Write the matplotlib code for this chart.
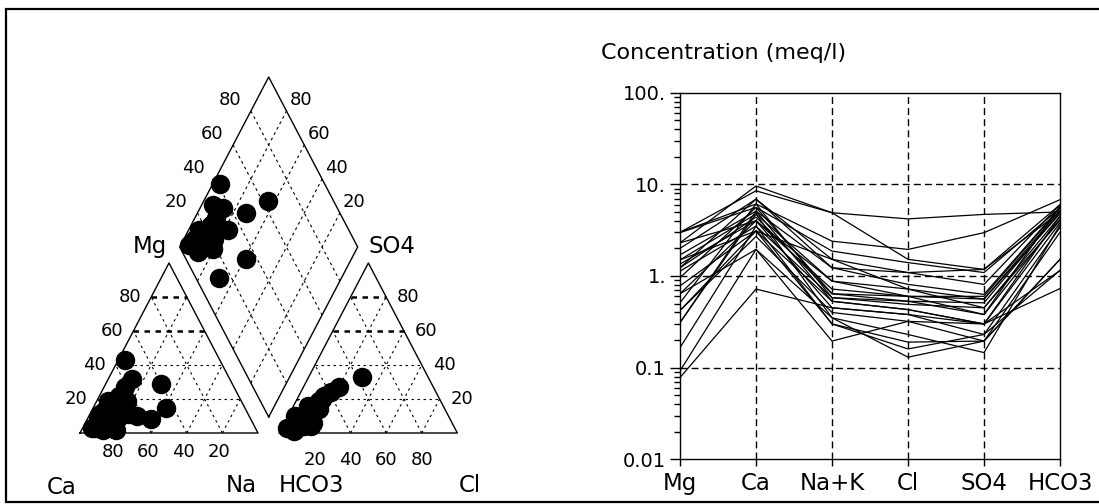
import numpy as np
import matplotlib
matplotlib.use("Agg")
import matplotlib.pyplot as plt
from matplotlib.ticker import LogLocator, NullFormatter, FixedLocator, FixedFormatter

plt.rcParams['font.family'] = ['DejaVu Sans']

# Piper samples (percent of meq): cations Mg, Na+K (rest Ca); anions SO4, Cl (rest HCO3)
mg_pct = [43, 32, 27, 22, 18, 13, 8, 3, 2, 5, 9, 11, 10, 8, 11, 19, 29, 15, 3, 2, 13, 19]
na_pct = [4, 13, 12, 11, 10, 7, 6, 5, 12, 15, 17, 22, 27, 36, 6, 6, 31, 41, 7, 19, 17, 17]
so4_pct = [24, 22, 14, 16, 10, 10, 2, 3, 1, 12, 4, 19, 27, 33, 4, 17, 4, 20, 6, 5, 6, 15]
cl_pct = [17, 14, 15, 8, 9, 4, 8, 3, 8, 13, 16, 13, 20, 30, 12, 14, 9, 14, 6, 13, 16, 12]

# Schoeller diagram (meq/l)
ions = ['Mg', 'Ca', 'Na+K', 'Cl', 'SO4', 'HCO3']
mg_meq = [2.3, 3.0, 3.0, 2.97, 2.0, 1.7, 1.5, 1.35, 1.23, 1.13, 0.96, 0.78, 0.64,
          0.51, 0.42, 0.31, 0.31, 0.165, 0.092, 0.078, 0.64, 1.5, 2.3, 1.23, 0.42]
ca_meq = [9.6, 8.5, 6.1, 5.6, 6.9, 5.1, 4.75, 4.0, 4.4, 3.5, 5.6, 3.1, 4.0,
          6.1, 2.7, 5.1, 4.75, 3.5, 1.95, 0.72, 1.95, 3.1, 4.0, 6.9, 3.1]
nak_meq = [4.9, 4.9, 2.4, 1.87, 1.52, 1.23, 0.88, 0.72, 0.64, 0.58, 0.64, 0.53, 0.45,
           0.58, 0.4, 0.53, 0.35, 0.3, 0.195, 0.45, 0.35, 1.52, 0.88, 1.23, 0.3]
cl_meq = [4.2, 1.52, 1.95, 1.4, 1.09, 0.81, 0.72, 0.6, 0.53, 0.49, 0.6, 0.43, 0.38,
          0.53, 0.32, 0.43, 0.23, 0.19, 0.32, 0.38, 0.13, 0.72, 0.6, 1.09, 0.16]
so4_meq = [4.7, 1.18, 2.97, 1.09, 0.81, 0.63, 0.56, 0.56, 0.51, 0.45, 0.38, 0.3, 0.23,
           0.38, 0.195, 0.3, 0.146, 0.195, 0.3, 0.3, 0.195, 0.45, 0.6, 1.18, 0.23]
hco3_meq = [5.0, 5.0, 6.8, 5.5, 6.0, 5.6, 5.2, 4.8, 5.0, 4.5, 4.2, 3.8, 3.4,
            5.8, 3.0, 4.5, 3.6, 1.52, 1.15, 0.73, 1.52, 4.0, 5.5, 6.0, 1.15]

y_ticks = [0.01, 0.1, 1, 10, 100]
y_tick_labels = ['0.01', '0.1', '1.', '10.', '100.']

# ---- layout (pixels of the 1099x504 picture) ----
W, H_PX = 1099, 504
SX, SY = 1.78, 1.963      # px per unit, horizontal / vertical
X0, Y0 = 80, 433          # pixel of the Ca corner
TH = 86.6                 # triangle height in units
GAP = 12
DROP = 8.15


def to_units(xp, yp):
    return (xp - X0) / SX, (Y0 - yp) / SY


def cat_xy(mg, na):
    mg, na = np.asarray(mg, float), np.asarray(na, float)
    return na + 0.5 * mg, TH * mg / 100.0


def an_xy(so4, cl):
    so4, cl = np.asarray(so4, float), np.asarray(cl, float)
    return 100 + GAP + cl + 0.5 * so4, TH * so4 / 100.0


def dia_xy(na, s):
    na, s = np.asarray(na, float), np.asarray(s, float)
    bx, by = 100 + GAP / 2.0, DROP
    a = (100 - na) / 100.0
    b = s / 100.0
    return bx - 50 * a + 50 * b, by + TH * (a + b)


fig = plt.figure(figsize=(W / 100, H_PX / 100), dpi=100)
fig.patch.set_facecolor('white')

ax_p = fig.add_axes([0, 0, 1, 1])
ax_p.set_xlim(to_units(0, 0)[0], to_units(W, 0)[0])
ax_p.set_ylim(to_units(0, H_PX)[1], to_units(0, 0)[1])
ax_p.axis('off')

# picture frame
fx, fy = to_units(np.array([W + 5, 6, 6, W + 5]), np.array([9, 9, 502, 502]))
ax_p.plot(fx, fy, color='black', lw=1.6, clip_on=False, solid_joinstyle='miter')

thin = dict(color='black', lw=0.8, dashes=(2.2, 3.2))
bold = dict(color='black', lw=1.8, dashes=(2.2, 2.2))
levels = [20, 40, 60, 80]

# cation triangle
for p in levels:
    x, y = cat_xy([p, p], [0, 100 - p])
    ax_p.plot(x, y, **(bold if p >= 60 else thin))
    x, y = cat_xy([0, 100 - p], [p, p])
    ax_p.plot(x, y, **thin)
    x, y = cat_xy([0, 100 - p], [100 - p, 0])
    ax_p.plot(x, y, **thin)
x, y = cat_xy([0, 0, 100, 0], [0, 100, 0, 0])
ax_p.plot(x, y, color='black', lw=1.0)

# anion triangle
for p in levels:
    x, y = an_xy([p, p], [0, 100 - p])
    ax_p.plot(x, y, **(bold if p >= 60 else thin))
    x, y = an_xy([0, 100 - p], [p, p])
    ax_p.plot(x, y, **thin)
    x, y = an_xy([0, 100 - p], [100 - p, 0])
    ax_p.plot(x, y, **thin)
x, y = an_xy([0, 0, 100, 0], [0, 100, 0, 0])
ax_p.plot(x, y, color='black', lw=1.0)

# diamond
for p in levels:
    x, y = dia_xy([p, p], [0, 100])
    ax_p.plot(x, y, color='black', lw=0.8, dashes=(2.5, 3.0))
    x, y = dia_xy([0, 100], [p, p])
    ax_p.plot(x, y, color='black', lw=0.8, dashes=(2.5, 3.0))
x, y = dia_xy([100, 0, 0, 100, 100], [0, 0, 100, 100, 0])
ax_p.plot(x, y, color='black', lw=1.0)

# scale labels
tk = dict(fontsize=13, textcoords='offset pixels', va='center')
for p in levels:
    ax_p.annotate(str(p), cat_xy(p, 0), xytext=(-10, 0), ha='right', **tk)
    ax_p.annotate(str(100 - p), cat_xy(0, p), xytext=(-3, -19), ha='center', **tk)
    ax_p.annotate(str(p), an_xy(0, p), xytext=(0, -27), ha='center', **tk)
    ax_p.annotate(str(p), an_xy(p, 100 - p), xytext=(11, 0), ha='left', **tk)
    ax_p.annotate(str(p), dia_xy(0, p), xytext=(-10, 11), ha='right', **tk)
    ax_p.annotate(str(p), dia_xy(100 - p, 100), xytext=(3, 11), ha='left', **tk)

cn = dict(fontsize=16.5, textcoords='offset pixels', va='center')
ax_p.annotate('Mg', cat_xy(100, 0), xytext=(-2, 17), ha='right', **cn)
ax_p.annotate('SO4', an_xy(100, 0), xytext=(0, 17), ha='left', **cn)
ax_p.annotate('Ca', cat_xy(0, 0), xytext=(-3, -54), ha='right', **cn)
ax_p.annotate('Na', cat_xy(0, 100), xytext=(-1, -52), ha='right', **cn)
ax_p.annotate('HCO3', an_xy(0, 0), xytext=(-1, -52), ha='left', **cn)
ax_p.annotate('Cl', an_xy(0, 100), xytext=(1, -52), ha='left', **cn)

# sample points
s_pct = np.add(so4_pct, cl_pct)
mk = dict(marker='o', ls='none', color='black', ms=13)
ax_p.plot(*cat_xy(mg_pct, na_pct), **mk)
ax_p.plot(*an_xy(so4_pct, cl_pct), **mk)
ax_p.plot(*dia_xy(na_pct, s_pct), **mk)

# ---- Schoeller diagram ----
ax_s = fig.add_axes([680 / W, 1 - 459.3 / H_PX, 380 / W, 366.6 / H_PX])
ax_s.set_yscale('log')
ax_s.set_xlim(0, len(ions) - 1)
ax_s.set_ylim(0.01, 100)

xs = np.arange(len(ions))
samples = np.column_stack([mg_meq, ca_meq, nak_meq, cl_meq, so4_meq, hco3_meq])
for row in samples:
    ax_s.plot(xs, row, color='black', lw=0.9)

for xv in xs[1:-1]:
    ax_s.axvline(xv, color='black', lw=1.0, dashes=(5, 3))
for yv in y_ticks[1:-1]:
    ax_s.axhline(yv, color='black', lw=1.0, dashes=(5, 3))

ax_s.yaxis.set_major_locator(FixedLocator(y_ticks))
ax_s.yaxis.set_major_formatter(FixedFormatter(y_tick_labels))
ax_s.yaxis.set_minor_locator(LogLocator(base=10, subs=np.arange(2, 10)))
ax_s.yaxis.set_minor_formatter(NullFormatter())
ax_s.set_xticks(xs)
ax_s.set_xticklabels(ions)
ax_s.tick_params(axis='y', which='major', direction='out', length=7, width=1,
                 labelsize=14, pad=3)
ax_s.tick_params(axis='y', which='minor', direction='out', length=4, width=1)
ax_s.tick_params(axis='x', direction='out', length=5, width=1, labelsize=16.5, pad=4)
for sp in ax_s.spines.values():
    sp.set_linewidth(1.0)

fig.text(601 / W, 1 - 53 / H_PX, 'Concentration (meq/l)', ha='left', va='center',
         fontsize=16)

fig.savefig('out.png', dpi=100, facecolor='white')
